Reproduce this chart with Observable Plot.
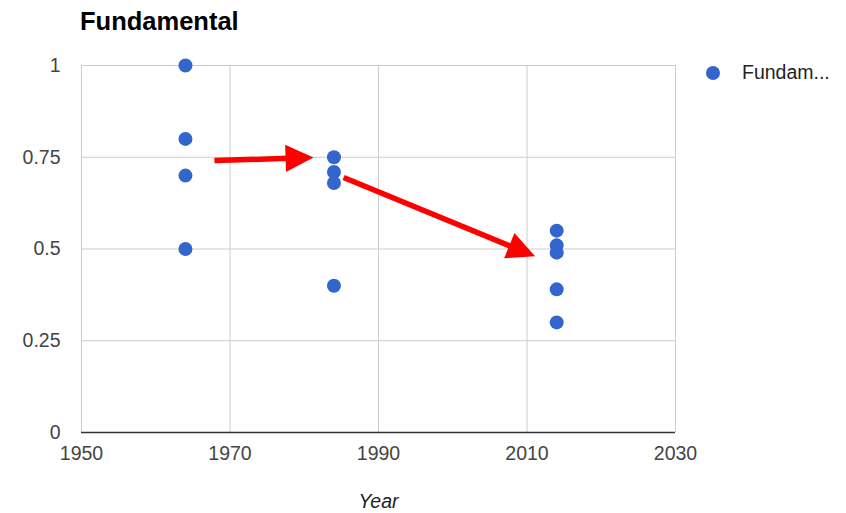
<!DOCTYPE html>
<html>
<head>
<meta charset="utf-8">
<script src="https://cdn.jsdelivr.net/npm/d3@7"></script>
<script src="https://cdn.jsdelivr.net/npm/@observablehq/plot@0.6"></script>
<style>
  html, body { margin: 0; padding: 0; background: #fff; }
  #wrap { position: relative; width: 846px; height: 513px; font-family: "Liberation Sans", Arial, sans-serif; }
  #title { position: absolute; left: 80px; top: 6px; font-size: 25.5px; font-weight: bold; color: #000; line-height: 30px; }
  #legend { position: absolute; left: 706px; top: 61px; font-size: 19.5px; color: #222; display: flex; align-items: center; }
  #legend .sw { width: 14px; height: 14px; border-radius: 50%; background: #3366cc; margin-right: 22px; }
  svg { position: absolute; left: 0; top: 0; }
</style>
</head>
<body>
<div id="wrap">
  <div id="title">Fundamental</div>
  <div id="legend"><span class="sw"></span><span>Fundam...</span></div>
</div>
<script>
// ---- data ----
const years = [1964, 1964, 1964, 1964, 1984, 1984, 1984, 1984, 2014, 2014, 2014, 2014, 2014];
const values = [1, 0.8, 0.7, 0.5, 0.75, 0.71, 0.68, 0.40, 0.55, 0.51, 0.49, 0.39, 0.30];
const xTicks = [1950, 1970, 1990, 2010, 2030];
const yTicks = [0, 0.25, 0.5, 0.75, 1];
const yTickLabels = ["0", "0.25", "0.5", "0.75", "1"];
// annotation arrows (data units)
const arrowX1 = [1967.9, 1985.3];
const arrowY1 = [0.741, 0.695];
const arrowX2 = [1981.25, 2011.1];
const arrowY2 = [0.749, 0.480];

const points = years.map((y, i) => ({year: y, value: values[i]}));

const common = {
  width: 846,
  height: 513,
  marginLeft: 81,
  marginRight: 171,
  marginTop: 65,
  marginBottom: 81,
  x: {domain: [1950, 2030], label: null},
  y: {domain: [0, 1], label: null},
  style: {fontFamily: '"Liberation Sans", Arial, sans-serif', fontSize: "19.5px", color: "#444", background: "transparent", overflow: "visible"}
};

// first pass to obtain the scales
const probe = Plot.plot({...common, marks: [Plot.frame({stroke: "none"})]});
const sx = probe.scale("x"), sy = probe.scale("y");
function inv(s, v) {
  if (s.invert) return s.invert(v);
  const [d0, d1] = s.domain, [r0, r1] = s.range;
  return d0 + (v - r0) / (r1 - r0) * (d1 - d0);
}
const headLen = 28, headHalf = 13.6;
const shafts = [], heads = [];
arrowX1.forEach((_, i) => {
  const x0 = sx.apply(arrowX1[i]), y0 = sy.apply(arrowY1[i]);
  const x1 = sx.apply(arrowX2[i]), y1 = sy.apply(arrowY2[i]);
  const dx = x1 - x0, dy = y1 - y0, len = Math.hypot(dx, dy);
  const ux = dx / len, uy = dy / len, nx = -uy, ny = ux;
  const bx = x1 - ux * headLen, by = y1 - uy * headLen;
  const ex = x1 - ux * (headLen - 3), ey = y1 - uy * (headLen - 3);
  shafts.push({x1: arrowX1[i], y1: arrowY1[i], x2: inv(sx, ex), y2: inv(sy, ey)});
  [[x1, y1], [bx + nx * headHalf, by + ny * headHalf], [bx - nx * headHalf, by - ny * headHalf]]
    .forEach(([px, py]) => heads.push({k: i, x: inv(sx, px), y: inv(sy, py)}));
});

const chart = Plot.plot({
  ...common,
  marks: [
    Plot.gridX(xTicks, {stroke: "#cccccc", strokeOpacity: 1, strokeWidth: 1}),
    Plot.gridY(yTicks, {stroke: "#cccccc", strokeOpacity: 1, strokeWidth: 1}),
    Plot.ruleY([0], {stroke: "#333333", strokeWidth: 1.5}),
    Plot.axisX(xTicks, {tickSize: 0, tickPadding: 14, tickFormat: d => String(d), fill: "#444"}),
    Plot.axisY(yTicks, {tickSize: 0, tickPadding: 21, tickFormat: (d, i) => yTickLabels[yTicks.indexOf(d)], fill: "#444"}),
    Plot.text(["Year"], {frameAnchor: "bottom", dy: 75, fontStyle: "italic", fill: "#222", fontSize: 19.5}),
    Plot.dot(points, {x: "year", y: "value", r: 7, fill: "#3366cc", stroke: "none"}),
    Plot.link(shafts, {x1: "x1", y1: "y1", x2: "x2", y2: "y2", stroke: "#ff0000", strokeWidth: 5.5}),
    Plot.line(heads, {x: "x", y: "y", z: "k", fill: "#ff0000", stroke: "none"})
  ]
});
document.getElementById("wrap").prepend(chart);
</script>
</body>
</html>
